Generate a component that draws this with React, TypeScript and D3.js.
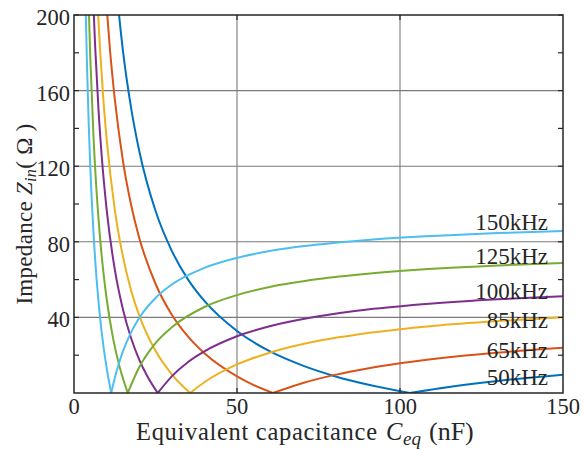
import React from "react";
import * as d3 from "d3";

// Input impedance of the series-compensated coil versus equivalent capacitance,
// one curve per operating frequency.
const frequencyLabels = ["50kHz", "65kHz", "85kHz", "100kHz", "125kHz", "150kHz"];

const cap50 = [13, 15, 17.5, 20, 25, 30, 35, 40, 50, 60, 70, 80, 90, 103, 115, 130, 150];
const z50 = [213.9, 181.3, 151.0, 128.2, 96.4, 75.2, 60.0, 48.7, 32.8, 22.1, 14.6, 8.9, 4.5, 0, 3.2, 6.4, 9.7];

const cap65 = [10, 11, 12.5, 15, 17.5, 20, 25, 30, 35, 40, 50, 55, 61, 70, 80, 90, 100, 120, 150];
const z65 = [204.7, 182.4, 155.7, 123.0, 99.7, 82.2, 57.8, 41.4, 29.8, 21.0, 8.8, 4.3, 0, 5.2, 9.6, 13.0, 15.7, 19.8, 23.9];

const cap85 = [7.3, 8, 9, 10, 12.5, 15, 17.5, 20, 25, 30, 35.6, 40, 50, 60, 75, 90, 110, 130, 150];
const z85 = [203.9, 181.5, 155.5, 134.7, 97.2, 72.3, 54.4, 41.1, 22.3, 9.9, 0, 5.7, 15.1, 21.3, 27.6, 31.7, 35.5, 38.1, 40.1];

const cap100 = [6, 6.5, 7.5, 8.5, 10, 12.5, 15, 17.5, 20, 22.5, 25.7, 30, 35, 40, 50, 60, 75, 90, 110, 130, 150];
const z100 = [203.4, 183.0, 150.4, 125.4, 97.3, 65.5, 44.3, 29.1, 17.7, 8.9, 0, 8.8, 16.4, 22.0, 30.0, 35.3, 40.6, 44.2, 47.4, 49.6, 51.2];

const cap125 = [4.5, 5, 6, 7, 8, 9, 10, 12, 14, 16.5, 20, 25, 30, 40, 50, 60, 75, 90, 110, 130, 150];
const z125 = [205.7, 177.4, 134.9, 104.6, 81.9, 64.2, 50.0, 28.8, 13.7, 0, 13.6, 26.4, 34.8, 45.5, 51.8, 56.1, 60.3, 63.1, 65.7, 67.5, 68.8];

const cap150 = [3.6, 4, 4.5, 5, 6, 7, 8, 9, 10, 11.4, 13, 15, 17.5, 20, 25, 30, 40, 50, 60, 75, 90, 110, 130, 150];
const z150 = [202.0, 172.5, 143.0, 119.5, 84.1, 58.8, 39.9, 25.2, 13.4, 0, 11.1, 22.0, 32.1, 39.7, 50.3, 57.4, 66.2, 71.5, 75.1, 78.6, 81.0, 83.1, 84.6, 85.7];

const xTicks = [0, 50, 100, 150];
const yTicks = [40, 80, 120, 160, 200];
const yMinorTicks = [20, 60, 100, 140, 180];

const seriesCaps = [cap50, cap65, cap85, cap100, cap125, cap150];
const seriesZ = [z50, z65, z85, z100, z125, z150];

const colors = ["#0072BD", "#D95319", "#EDB120", "#7E2F8E", "#77AC30", "#4DBEEE"];
// curve label baseline (in ohms) for each frequency
const labelY = [4.1, 18.7, 34.4, 49.6, 68.0, 86.1];

const W = 584;
const H = 449;
const left = 74;
const right = 563;
const top = 15;
const bottom = 393;
const font = "Liberation Serif, Tinos, Times New Roman, DejaVu Serif, serif";
const axisColor = "#262626";
const textStyle = { fontFamily: font };

export default function App() {
  const x = d3.scaleLinear().domain([0, 150]).range([left, right]);
  const y = d3.scaleLinear().domain([0, 200]).range([bottom, top]);
  const line = d3
    .line<[number, number]>()
    .x((d) => x(d[0]))
    .y((d) => y(d[1]))
    .curve(d3.curveMonotoneX);

  // Split each curve at its resonance point so the V bottom stays sharp.
  const branches = seriesCaps.map((caps, i) => {
    const pts: [number, number][] = caps.map((c, j) => [c, seriesZ[i][j]]);
    const k = d3.minIndex(pts, (p) => p[1]);
    return [pts.slice(0, k + 1), pts.slice(k)];
  });

  return (
    <svg
      width={W}
      height={H}
      style={{ position: "absolute", left: 0, top: 0, background: "#fff", fontFamily: font }}
    >
      <defs>
        <clipPath id="plot">
          <rect x={left} y={top} width={right - left} height={bottom - top} />
        </clipPath>
      </defs>

      {/* grid */}
      {yTicks.slice(0, -1).map((t) => (
        <line key={"gy" + t} x1={left} x2={right} y1={y(t)} y2={y(t)} stroke="#7a7a7a" strokeWidth={1.1} />
      ))}
      {[50, 100].map((t) => (
        <line key={"gx" + t} x1={x(t)} x2={x(t)} y1={top} y2={bottom} stroke="#7a7a7a" strokeWidth={1.1} />
      ))}

      {/* curves */}
      <g clipPath="url(#plot)">
        {branches.map((br, i) =>
          br.map((b, j) => (
            <path key={i + "-" + j} d={line(b) || ""} fill="none" stroke={colors[i]} strokeWidth={2} />
          ))
        )}
      </g>

      {/* ticks */}
      {yTicks.concat(yMinorTicks).map((t) => (
        <g key={"ty" + t} stroke={axisColor} strokeWidth={1.2}>
          <line x1={left} x2={left + 5} y1={y(t)} y2={y(t)} />
          <line x1={right} x2={right - 5} y1={y(t)} y2={y(t)} />
        </g>
      ))}
      {[50, 100].map((t) => (
        <g key={"tx" + t} stroke={axisColor} strokeWidth={1.2}>
          <line x1={x(t)} x2={x(t)} y1={bottom} y2={bottom - 5} />
          <line x1={x(t)} x2={x(t)} y1={top} y2={top + 5} />
        </g>
      ))}

      {/* frame */}
      <rect x={left} y={top} width={right - left} height={bottom - top} fill="none" stroke={axisColor} strokeWidth={1.5} />

      {/* tick labels */}
      {yTicks.map((t) => (
        <text key={"ly" + t} style={textStyle} x={left - 4} y={y(t) + 10} textAnchor="end" fontSize={22.5} fill={axisColor}>
          {t}
        </text>
      ))}
      {xTicks.map((t) => (
        <text key={"lx" + t} style={textStyle} x={x(t)} y={414} textAnchor="middle" fontSize={22.5} fill={axisColor}>
          {t}
        </text>
      ))}

      {/* curve labels */}
      {frequencyLabels.map((f, i) => (
        <text key={f} style={textStyle} x={548} y={y(labelY[i])} textAnchor="end" fontSize={23} fill={axisColor}>
          {f}
        </text>
      ))}

      {/* axis titles */}
      <g style={textStyle} fill={axisColor}>
        <text x={136} y={440} fontSize={24.5} textLength={241} lengthAdjust="spacing">
          Equivalent capacitance
        </text>
        <text x={386} y={440} fontSize={24.5} fontStyle="italic">
          C
        </text>
        <text x={403} y={445} fontSize={19} fontStyle="italic">
          eq
        </text>
        <text x={429} y={440} fontSize={26}>
          (nF)
        </text>
      </g>
      <text
        style={textStyle}
        transform="translate(32,214) rotate(-90)"
        textAnchor="middle"
        fontSize={23}
        letterSpacing={0.3}
        fill={axisColor}
      >
        Impedance <tspan fontStyle="italic">Z</tspan>
        <tspan fontStyle="italic" fontSize={16} dy={4}>in</tspan>
        <tspan dy={-4}>( Ω )</tspan>
      </text>
    </svg>
  );
}
